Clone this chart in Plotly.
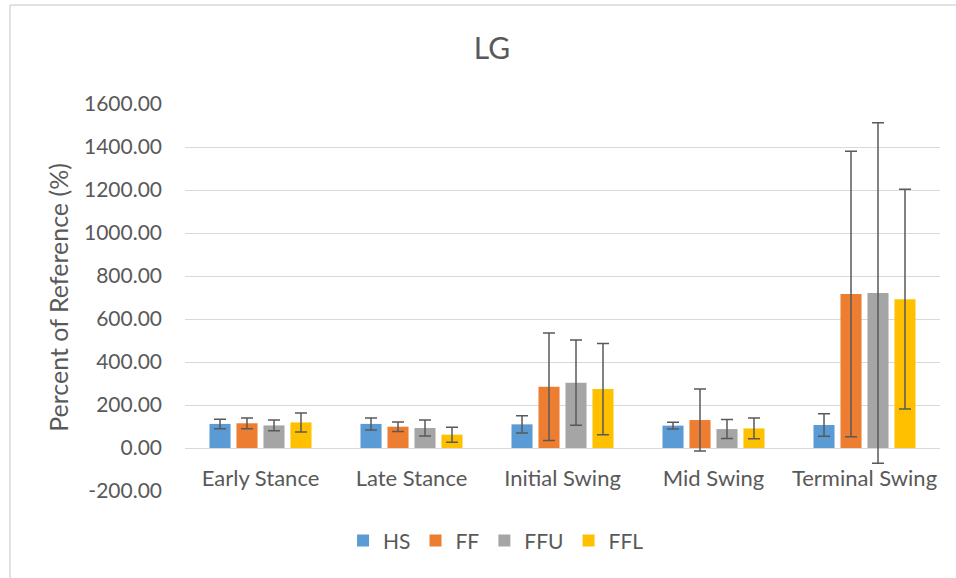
import plotly.graph_objects as go

categories = ["Early Stance", "Late Stance", "Initial Swing", "Mid Swing", "Terminal Swing"]
series_names = ["HS", "FF", "FFU", "FFL"]

hs_values = [112, 112, 110, 104, 107]
ff_values = [115, 99, 285, 130, 716]
ffu_values = [105, 93, 304, 88, 721]
ffl_values = [119, 62, 274, 91, 692]

hs_errors = [22, 28, 40, 16, 52]
ff_errors = [25, 22, 250, 144, 664]
ffu_errors = [25, 37, 198, 44, 792]
ffl_errors = [44, 35, 212, 48, 511]

y_tick_values = [-200, 0, 200, 400, 600, 800, 1000, 1200, 1400, 1600]
y_tick_labels = ["-200.00", "0.00", "200.00", "400.00", "600.00", "800.00",
                 "1000.00", "1200.00", "1400.00", "1600.00"]

colors = ["#5B9BD5", "#ED7D31", "#A5A5A5", "#FFC000"]
values = [hs_values, ff_values, ffu_values, ffl_values]
errors = [hs_errors, ff_errors, ffu_errors, ffl_errors]

FONT = "Lato"
TXT = "#595959"

fig = go.Figure()
for name, vals, errs, col in zip(series_names, values, errors, colors):
    fig.add_trace(go.Bar(
        name=name, x=categories, y=vals,
        marker=dict(color=col, line=dict(width=0)),
        error_y=dict(type="data", array=errs, visible=True,
                     color="#595959", thickness=1.5, width=6),
    ))

fig.update_layout(
    width=956, height=578,
    margin=dict(l=185, r=16, t=104, b=87),
    paper_bgcolor="white", plot_bgcolor="white",
    barmode="group", bargap=0.285, bargroupgap=0.22,
    font=dict(family=FONT, color=TXT, size=21),
    title=dict(text="LG", x=492 / 956, xanchor="center",
               y=1 - 48 / 578, yanchor="middle",
               font=dict(family=FONT, size=30, color=TXT)),
    showlegend=True,
    legend=dict(orientation="h", x=0.412, xanchor="center",
                y=-0.129, yanchor="middle",
                font=dict(family=FONT, size=21, color=TXT),
                traceorder="normal", itemwidth=30),
    xaxis=dict(anchor="free", position=200 / 1800, showline=False,
               showgrid=False, ticks="", ticklabelstandoff=15,
               tickfont=dict(family=FONT, size=22, color=TXT)),
    yaxis=dict(range=[-200, 1600], tickvals=y_tick_values, ticktext=y_tick_labels,
               showgrid=True, gridcolor="#D9D9D9", gridwidth=1,
               zeroline=True, zerolinecolor="#D9D9D9", zerolinewidth=1,
               showline=False, ticks="", ticklabelstandoff=22,
               tickfont=dict(family=FONT, size=21, color=TXT),
               title=dict(text="Percent of Reference (%)", standoff=8,
                          font=dict(family=FONT, size=25, color=TXT))),
    shapes=[
        dict(type="line", xref="paper", yref="paper",
             x0=(10 - 185) / 755, x1=(10 - 185) / 755,
             y0=(491 - 578) / 387, y1=(491 - 5) / 387,
             line=dict(color="#D9D9D9", width=1.5)),
        dict(type="line", xref="paper", yref="paper",
             x0=(10 - 185) / 755, x1=(956 - 185) / 755,
             y0=(491 - 5) / 387, y1=(491 - 5) / 387,
             line=dict(color="#D9D9D9", width=1.5)),
    ],
)

fig.write_html(
    "out.html",
    config={"displayModeBar": False},
    post_script="document.body.style.margin='0px';document.body.style.overflow='hidden';",
)
